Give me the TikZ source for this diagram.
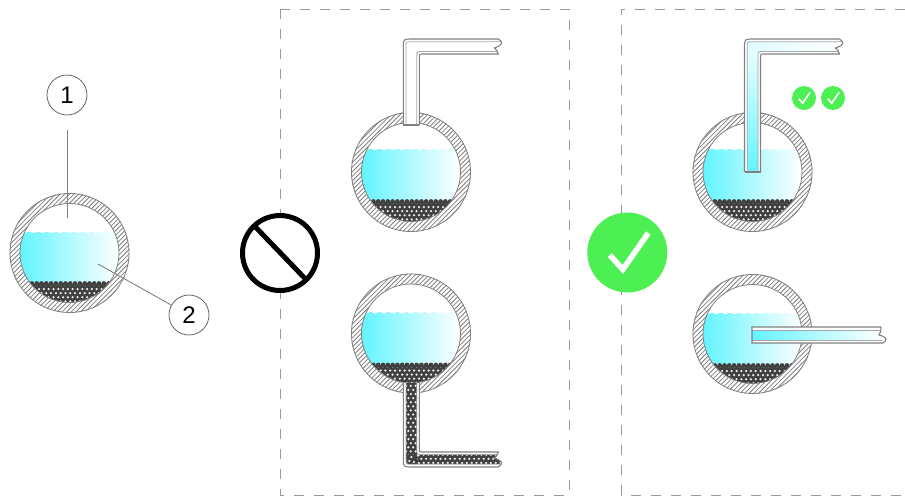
\documentclass[tikz,border=0pt]{standalone}
\usepackage{fontspec}
\setmainfont{Liberation Sans}
\definecolor{watercyan}{HTML}{62F4FF}
\definecolor{beaddark}{HTML}{404040}
\definecolor{okgreen}{HTML}{4CF053}
\tikzset{
  panel/.style={draw=black!40,line width=1pt,dash pattern=on 10pt off 10pt},
  pipewall/.style={draw=black!50,line width=1.1pt},
  pipeliner/.style={draw=black!35,line width=.8pt},
  callout/.style={circle,draw=black!60,line width=.8pt,fill=white,minimum size=40pt,inner sep=0pt,font=\fontsize{24}{24}\selectfont},
  leader/.style={draw=black!50,line width=.9pt},
}
\newcommand\beads[6]{\fill[beaddark] (#1,#2) rectangle (#3,#4);
  \foreach \row in {0,...,#5} \foreach \col in {0,...,#6}
    \fill[black!8] ({#1+\col*4.8+mod(\row,2)*2.4},{#2+1.4+\row*4.1}) circle (1.25);}
\newcommand\vessel[4]{\begin{scope}[shift={(#1,#2)}]
  \begin{scope}
    \clip (0,0) circle (60);
    \foreach \h in {-128,-123.4,...,128} \draw[black!50,line width=.8pt] (\h-70,70) -- (\h+70,-70);
  \end{scope}
  \fill[white] (0,0) circle (49.5);
  \begin{scope}
    \clip (0,0) circle (49.5);
    \shade[left color=watercyan,right color=white] (-50,#3) rectangle (50,#4);
    \foreach \s in {-54,-45,...,54} \fill[white] (\s,#3-2.8) circle (4);
    \beads{-52}{#4+1.5}{52}{52}{12}{22}
    \foreach \s in {-52,-47.2,...,52} \fill[beaddark] (\s,#4+1.5) circle (2.4);
  \end{scope}
  \draw[black!50,line width=.8pt] (0,0) circle (59.5) (0,0) circle (49.5);
\end{scope}}
\newcommand\elbowoutline[2]{(0,#1) -- (0,9) .. controls (0,0) .. (9,0) -- (#2,0)
  .. controls (#2+5,3) and (#2+5,6) .. (#2-4,9) .. controls (#2-2,10) and (#2-1,12) .. (#2,15)
  -- (20,15) .. controls (16,15) .. (16,19) -- (16,#1)}
\newcommand\elbowpipe[3]{\fill[white] \elbowoutline{#1}{#2};
  \begin{scope}
    \clip \elbowoutline{#1}{#2};
    #3
    \draw[pipeliner] (2.7,#1) -- (2.7,8) .. controls (2.7,2.7) .. (8,2.7) -- (#2+6,2.7);
    \draw[pipeliner] (#2+6,12.5) -- (19,12.5) .. controls (13.5,12.5) .. (13.5,18) -- (13.5,#1);
  \end{scope}
  \draw[pipewall] \elbowoutline{#1}{#2};}
\newcommand\okbadge[3]{\begin{scope}[shift={(#1,#2)},scale=#3]
  \fill[okgreen] (0,0) circle (40);
  \draw[white,line width=#3*5.6pt] (-17.5,2.5) -- (-4.5,17) -- (21,-19.5);
\end{scope}}
\begin{document}
\begin{tikzpicture}[x=1pt,y=-1pt]
  \useasboundingbox (0,0) rectangle (905,496);
  \draw[panel] (280,9) -- (569,9) -- (569,495) -- (280,495) -- cycle;
  \draw[panel] (905,9) -- (621,9) -- (621,495) -- (905,495);
  % reference vessel
  \vessel{69.5}{253}{-21}{29}
  \node[callout] (one) at (67,95) {1};
  \node[callout] (two) at (189,315) {2};
  \coordinate (oneend) at (67,218);
  \coordinate (twoend) at (98,264);
  \draw[leader,shorten <=15pt] (one) -- (oneend);
  \draw[leader] (two) -- (twoend);
  % wrong connections
  \vessel{411}{172}{-23}{28}
  \begin{scope}[shift={(403.3,39)}]
    \elbowpipe{86}{95}{}
    \draw[pipewall] (0,86) -- (16,86);
  \end{scope}
  \vessel{411}{333.5}{-21}{30}
  \begin{scope}[shift={(403.3,467)},yscale=-1]
    \elbowpipe{84}{95}{\beads{6}{2.7}{106}{12.5}{2}{21}
      \beads{2.7}{6}{13.5}{90}{20}{2}
      \fill[beaddark] (3,8) .. controls (3,3) .. (8,3) -- (13.5,3) -- (13.5,12.5) -- (3,12.5) -- cycle;
      \fill[black!8] (6,6) circle (1.25) (10.5,5) circle (1.25) (8,10) circle (1.25);}
  \end{scope}
  \fill[white] (280,253) circle (40);
  \draw[black,line width=5pt] (280,253) circle (37.5) (255,226.5) -- (305.5,279);
  % right connections
  \vessel{752.5}{172}{-23}{28}
  \begin{scope}[shift={(744.5,39)}]
    \elbowpipe{133}{95}{\shade[top color=watercyan!15,bottom color=watercyan] (2.7,13) rectangle (13.5,133);
      \shade[left color=watercyan!20,right color=white] (2.7,2.7) rectangle (100,12.5);
      \fill[watercyan!20] (2.7,2.7) rectangle (13.5,13);}
    \draw[pipewall] (0,133) -- (16,133);
  \end{scope}
  \vessel{752.5}{334}{-21}{30}
  \fill[white] (752,327) rectangle (884,343);
  \shade[left color=watercyan,right color=white] (752,330) rectangle (882,340.5);
  \draw[pipeliner] (752,330) -- (881,330) (752,340.5) -- (882,340.5);
  \draw[pipewall] (881,327) -- (752,327) -- (752,343) -- (883,343) .. controls (888,340) and (887,337) .. (879,335)
    .. controls (881,333) and (881,330) .. (881,327);
  \okbadge{627.3}{252.5}{1}
  \okbadge{804}{98}{.3}
  \okbadge{833}{98}{.3}
\end{tikzpicture}
\end{document}
